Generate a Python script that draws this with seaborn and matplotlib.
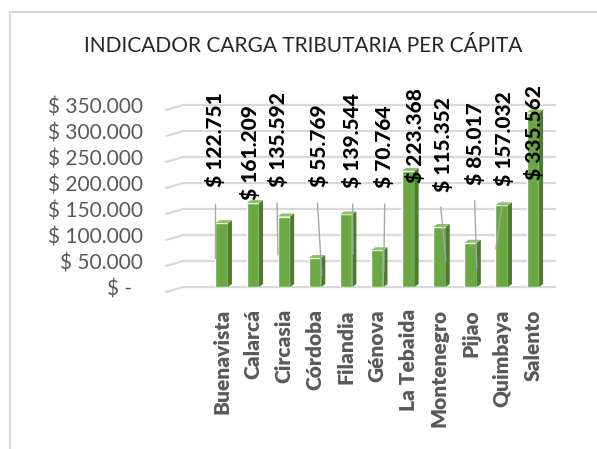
import matplotlib
matplotlib.use('Agg')
import matplotlib.pyplot as plt
import seaborn as sns
import pandas as pd
from matplotlib.patches import Polygon
from matplotlib.lines import Line2D

# ── data ────────────────────────────────────────────────────────────────
municipios = ['Buenavista', 'Calarcá', 'Circasia', 'Córdoba', 'Filandia', 'Génova',
              'La Tebaida', 'Montenegro', 'Pijao', 'Quimbaya', 'Salento']
carga = [122751, 161209, 135592, 55769, 139544, 70764,
         223368, 115352, 85017, 157032, 335562]
y_ticks = [0, 50000, 100000, 150000, 200000, 250000, 300000, 350000]
title = 'INDICADOR CARGA TRIBUTARIA PER CÁPITA'

# label placement (offset from bar centre, height of label base) - layout only
lab_dx = [-0.21, -0.08, -0.19, 0.12, 0.19, 0.23, 0.22, 0.10, 0.13, 0.06, 0.05]
lab_y = [192900, 167300, 192900, 192900, 190400, 190400,
         200000, 183300, 196200, 194200, 205800]
# leader lines (dx0, y0, dx1, y1) relative to bar centre
leaders = [(-0.21, 159600, -0.21, 55800), None, (-0.22, 161500, -0.19, 61500),
           (0.08, 161500, 0.22, 21200), (0.21, 159600, 0.22, 63500),
           (0.24, 159600, 0.21, 28800), None, (0.04, 153800, 0.21, 50000),
           (0.13, 165900, 0.20, 36500), (0.03, 164000, -0.19, 73000), None]

def fmt(v):
    return '$ -  ' if v == 0 else '$ ' + f'{v:,.0f}'.replace(',', '.')

df = pd.DataFrame({'municipio': municipios, 'carga': carga})

sns.set_style('white')
plt.rcParams['font.family'] = ['Lato', 'DejaVu Sans']

fig = plt.figure(figsize=(5.97, 4.49), dpi=100)
ax = fig.add_axes([0.278, 0.3608, 0.652, 0.4053])

W = 0.40      # front face width
DX = 0.13     # depth in x
DY = 5770     # depth in y
sns.barplot(data=df, x='municipio', y='carga', order=municipios, color='#6AA843',
            saturation=1, width=W, ax=ax, zorder=3)

for i, v in enumerate(carga):
    ax.add_patch(Polygon([(i + W/2, 0), (i + W/2 + DX, DY), (i + W/2 + DX, v + DY),
                          (i + W/2, v)], closed=True, color='#4C7A2E', zorder=3, lw=0))
    ax.add_patch(Polygon([(i - W/2, v), (i + W/2, v), (i + W/2 + DX, v + DY),
                          (i - W/2 + DX, v + DY)], closed=True, color='#8BC462',
                         zorder=3, lw=0))

# gridlines with perspective slant at the left
for t in y_ticks:
    ax.plot([-1.79, -1.24, 10.72], [t - 9600, t, t], color='#D9D9D9', lw=1.6,
            zorder=0, clip_on=False, solid_capstyle='round')

# leader lines and data labels
for i, v in enumerate(carga):
    if leaders[i] is not None:
        x0, y0, x1, y1 = leaders[i]
        ax.plot([i + x0, i + x1], [y0, y1], color='#A6A6A6', lw=1, zorder=4, clip_on=False)
    ax.text(i + lab_dx[i], lab_y[i], fmt(v), rotation=90, ha='center', va='bottom',
            fontsize=15, fontweight=900, color='black', zorder=5, clip_on=False)

ax.set_xlim(-1.79, 10.72)
ax.set_ylim(0, 350000)
ax.set_yticks(y_ticks)
ax.set_yticklabels([fmt(t) for t in y_ticks], fontsize=15, color='#595959')
ax.set_xticks(range(len(municipios)))
ax.set_xticklabels(municipios, rotation=90, fontsize=15, fontweight=800, color='#595959')
ax.tick_params(axis='y', length=0, pad=16.5)
ax.tick_params(axis='x', length=0, pad=16)
ax.set_xlabel(''); ax.set_ylabel('')
ax.grid(False)
for s in ax.spines.values():
    s.set_visible(False)

fig.text(303/597, 1 - 46/449, title, ha='center', va='center', fontsize=15, color='#262626')

# chart frame (top and left edges visible)
fig.add_artist(Line2D([10/597, 10/597], [0, 1 - 12/449], transform=fig.transFigure,
                      color='#D9D9D9', lw=1.5))
fig.add_artist(Line2D([10/597, 1], [1 - 12/449, 1 - 12/449], transform=fig.transFigure,
                      color='#D9D9D9', lw=1.5))

plt.savefig('out.png', dpi=100)
plt.close()
